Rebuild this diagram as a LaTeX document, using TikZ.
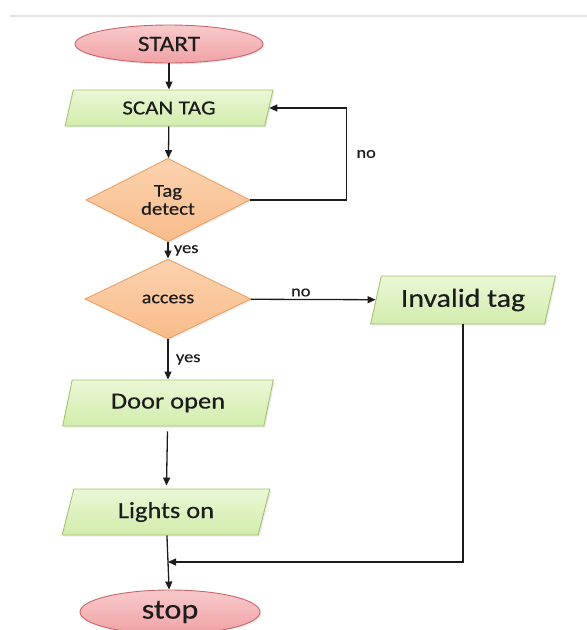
\documentclass[tikz,border=0pt]{standalone}
\usepackage{fontspec}
\setmainfont{Carlito}[FakeStretch=1.15,FakeBold=0.4]
\usetikzlibrary{shapes.geometric,arrows.meta,shadows}
\definecolor{pinktop}{HTML}{F8CACB}
\definecolor{pinkbot}{HTML}{F0A2A5}
\definecolor{pinkline}{HTML}{C8666A}
\definecolor{greentop}{HTML}{EAF8D6}
\definecolor{greenbot}{HTML}{D2ECAC}
\definecolor{greenline}{HTML}{A2C46C}
\definecolor{orangetop}{HTML}{FBD2AE}
\definecolor{orangebot}{HTML}{F8BC8A}
\definecolor{orangeline}{HTML}{EBA068}
\definecolor{ink}{HTML}{1C1C1C}
\definecolor{rule}{HTML}{E4E4E4}

\begin{document}
\begin{tikzpicture}[x=1pt,y=-1pt,text=ink,
  shade/.style={drop shadow={opacity=0.15,shadow xshift=1.5pt,shadow yshift=-1.5pt}},
  terminal/.style={ellipse,shade,draw=pinkline,line width=0.9pt,top color=pinktop,bottom color=pinkbot,inner sep=0pt},
  io/.style={trapezium,shade,trapezium stretches=true,trapezium left angle=73,trapezium right angle=107,draw=greenline,line width=0.9pt,top color=greentop,bottom color=greenbot,inner sep=0pt},
  decision/.style={diamond,shade,draw=orangeline,line width=0.9pt,top color=orangetop,bottom color=orangebot,inner sep=0pt,align=center},
  flow/.style={draw=ink,line width=1.3pt,-{Triangle[length=8pt,width=7pt]}},
  tag/.style={font=\fontsize{16}{18}\selectfont}]
\useasboundingbox (0,0) rectangle (587,630);
\draw[rule,line width=2pt] (10,16) -- (587,16);

% shapes
\node[terminal,minimum width=188pt,minimum height=38pt,font=\fontsize{22}{24}\selectfont] (start) at (169,44) {START};
\node[io,minimum width=208pt,minimum height=36pt,font=\fontsize{20}{22}\selectfont] (scan) at (169,108) {SCAN TAG};
\node[decision,minimum width=164pt,minimum height=80pt,font=\fontsize{18}{18}\selectfont] (detect) at (168,200) {Tag\\detect};
\node[decision,minimum width=166pt,minimum height=80pt,font=\fontsize{17.5}{20}\selectfont] (access) at (168,299) {access};
\node[io,trapezium left angle=70,trapezium right angle=110,minimum width=185pt,minimum height=48pt,font=\fontsize{26}{28}\selectfont] (invalid) at (463,300) {Invalid tag};
\node[io,minimum width=211pt,minimum height=46pt,font=\fontsize{23}{26}\selectfont] (door) at (168,403) {Door open};
\node[io,minimum width=208pt,minimum height=46pt,font=\fontsize{23}{26}\selectfont] (lights) at (166,512) {Lights on};
\node[terminal,minimum width=180pt,minimum height=44pt,font=\fontsize{28}{30}\selectfont] (stop) at (170,612) {stop};
\coordinate (merge) at (168,562);

% connectors
\draw[flow] (start) -- (scan);
\draw[flow] (scan) -- (detect);
\draw[flow] (detect.east) -- ++(96,0) |- node[tag,pos=0.25,right=6pt]{no} (scan.east);
\draw[flow] (detect) -- node[tag,right=2pt]{yes} (access);
\draw[flow] (access) -- node[tag,above=-1pt,pos=0.4]{no} (invalid);
\draw[flow] (access) -- node[tag,right=4pt]{yes} (door);
\draw[flow,shorten <=5pt,shorten >=3pt] (door) -- (lights);
\draw[flow] (lights) -- (stop);
\draw[flow] (invalid.south) |- (merge);
\end{tikzpicture}
\end{document}
